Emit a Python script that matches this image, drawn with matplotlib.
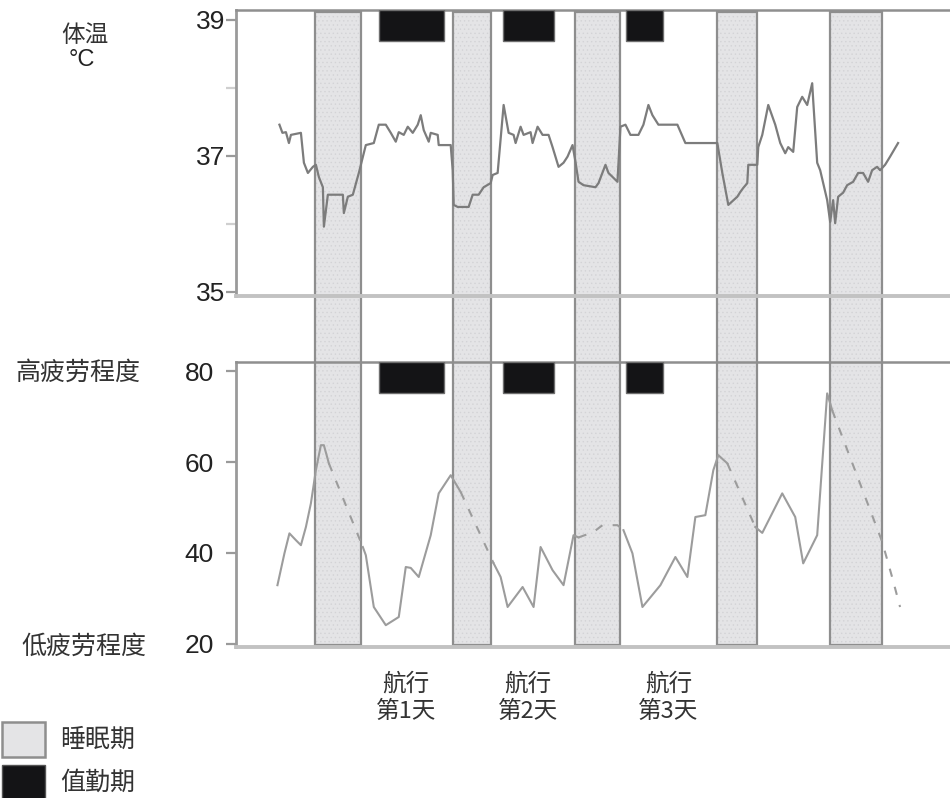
import matplotlib
matplotlib.use("Agg")
import matplotlib.pyplot as plt
from matplotlib.patches import Rectangle

plt.rcParams['font.family'] = ['Liberation Sans', 'Noto Sans CJK SC']
plt.rcParams['hatch.linewidth'] = 0.5
CJK = ['Noto Sans CJK SC', 'DejaVu Sans']

# ---- data (time in hours from start of record) ----
sleep_periods = [(15.8, 25.0), (43.4, 51.0), (67.8, 77.0), (96.4, 104.4), (119.0, 129.4)]
duty_periods = [(28.6, 41.6), (53.4, 63.6), (78.2, 85.6)]

temp_hours = [8.7, 9.3, 10, 10.6, 11, 13, 13.6, 14.4, 15.4, 16, 16.6, 17.4, 17.6, 18.4, 21.4, 21.6,
              22.4, 23.4, 24.6, 26, 27.6, 28.6, 30, 31, 32, 32.6, 33.6, 34.4, 35.4, 36.4, 37, 37.6,
              38.6, 39, 40.4, 40.6, 43, 43.4, 43.6, 44.4, 46.6, 47.4, 48.6, 49.6, 51, 51.4, 52.4,
              53.6, 54.6, 55.6, 56, 57, 57.6, 59, 59.4, 60.4, 61.4, 62.6, 63.4, 64.6, 65.6, 66.4,
              67.4, 68, 68.6, 69.6, 72, 72.6, 74, 74.6, 76.4, 77, 78, 79, 80.6, 81.6, 82.6, 83.4,
              84.6, 88.4, 90, 96.4, 97.4, 98.6, 100.4, 101, 101.6, 102.4, 102.6, 104.4, 104.6,
              105.4, 106.6, 108, 109, 110, 110.6, 111.6, 112.4, 113.4, 114.4, 115.4, 115.6, 116.4,
              117, 118.4, 119, 119.6, 120, 120.6, 121.6, 122.4, 123.6, 124.6, 125.6, 126.6, 127.4,
              128.4, 129, 130, 131, 132.6]
temp_values = [37.46, 37.34, 37.35, 37.19, 37.31, 37.34, 36.90, 36.75, 36.84, 36.87, 36.69, 36.54,
               35.96, 36.43, 36.43, 36.16, 36.40, 36.43, 36.75, 37.16, 37.19, 37.46, 37.46, 37.34,
               37.21, 37.35, 37.31, 37.43, 37.34, 37.46, 37.60, 37.38, 37.21, 37.34, 37.31, 37.16,
               37.16, 36.79, 36.28, 36.25, 36.25, 36.43, 36.43, 36.54, 36.60, 36.72, 36.75, 37.75,
               37.34, 37.31, 37.19, 37.43, 37.31, 37.35, 37.19, 37.43, 37.31, 37.31, 37.13, 36.84,
               36.90, 36.99, 37.16, 36.91, 36.62, 36.57, 36.54, 36.60, 36.87, 36.75, 36.62, 37.43,
               37.46, 37.31, 37.31, 37.46, 37.75, 37.60, 37.46, 37.46, 37.19, 37.19, 36.75, 36.28,
               36.40, 36.47, 36.53, 36.60, 36.87, 36.87, 37.13, 37.31, 37.75, 37.46, 37.19, 37.04,
               37.13, 37.06, 37.72, 37.87, 37.75, 38.07, 37.82, 36.90, 36.79, 36.35, 36.03, 36.35,
               36.01, 36.40, 36.46, 36.57, 36.62, 36.75, 36.75, 36.62, 36.79, 36.84, 36.79, 36.87,
               36.99, 37.19]

fatigue_hours = [8.3, 9.7, 10.7, 12, 13, 14, 15, 16, 17, 17.6, 18.6, 25.4, 26, 27.6, 30, 32.6, 34,
                 35, 36.6, 39, 40.6, 43, 45, 51.6, 53, 54.4, 57.4, 59.6, 61, 63.4, 65.6, 67.6,
                 68.6, 71.6, 73.4, 76.4, 77.6, 79.4, 81.4, 85, 88, 90.4, 92, 94, 95.6, 96.6, 98.4,
                 104, 105.4, 109.4, 112, 113.6, 116.4, 118.4, 119.4, 129.4, 131.4, 133]
fatigue_values = [32.9, 39.9, 44.3, 42.8, 41.7, 45.7, 50.9, 58.2, 63.7, 63.7, 59.7, 41.3, 39.5,
                  28.1, 24.1, 25.9, 36.9, 36.7, 34.7, 43.9, 53.1, 57.1, 53.4, 37.7, 34.7, 28.1,
                  32.5, 28.1, 41.3, 36.2, 32.9, 43.9, 43.4, 44.6, 46.1, 46.1, 45.0, 39.9, 28.1,
                  32.9, 39.1, 34.7, 47.9, 48.3, 58.2, 61.5, 59.7, 45.7, 44.4, 53.1, 47.9, 37.7,
                  43.9, 75.1, 71.4, 42.5, 34.7, 28.1]
# True where the segment leading to the next point is an estimate (dashed)
fatigue_dashed = [False] * 10 + [True] + [False] * 11 + [True] + [False] * 9 + [True] * 4 + \
                 [False] * 10 + [True] + [False] * 7 + [True] * 3 + [False]

temp_ticks = [35, 37, 39]
temp_minor = [36, 38]
fatigue_ticks = [20, 40, 60, 80]
day_centers = [34.0, 58.4, 86.6]
day_labels = ["航行\n第1天", "航行\n第2天", "航行\n第3天"]

# ---- style ----
W, H = 950, 798
BAND_FACE = '#e4e4e6'
BAND_DOT = '#d3d3d6'
BAND_EDGE = '#8e8e8e'
DUTY_FACE = '#141416'
AXIS_GRAY = '#9a9a9a'
XLIM = (0, 143)

fig = plt.figure(figsize=(W / 100, H / 100), dpi=100)


def fbox(x0, y0, x1, y1):
    """Pixel box (top-left origin) to figure fraction rectangle."""
    return [x0 / W, 1 - y1 / H, (x1 - x0) / W, (y1 - y0) / H]


# Background layer carrying the sleep bands across both panels
ax_bg = fig.add_axes(fbox(236, 10, 950, 647))
ax_bg.set_xlim(*XLIM)
ax_bg.set_ylim(0, 1)
ax_bg.axis('off')
for s, e in sleep_periods:
    ax_bg.add_patch(Rectangle((s, 0.003), e - s, 0.994, facecolor=BAND_FACE,
                              edgecolor=BAND_DOT, linewidth=0, hatch='....', zorder=1))
    ax_bg.add_patch(Rectangle((s, 0.003), e - s, 0.994, fill=False,
                              edgecolor=BAND_EDGE, linewidth=1.6, zorder=2))

ax_t = fig.add_axes(fbox(236, 10, 950, 296))
ax_b = fig.add_axes(fbox(236, 362, 950, 647))
for ax in (ax_t, ax_b):
    ax.patch.set_visible(False)
    ax.set_xlim(*XLIM)
    ax.set_xticks([])
    ax.spines['right'].set_visible(False)
    ax.spines['left'].set_color(AXIS_GRAY)
    ax.spines['left'].set_linewidth(2)
    ax.spines['top'].set_color('#8f8f8f')
    ax.spines['top'].set_linewidth(1.8)
    ax.spines['bottom'].set_color('#c2c2c2')
    ax.spines['bottom'].set_linewidth(2.8)
    for s, e in duty_periods:
        ax.axvspan(s, e, ymin=0.89, ymax=1.0, facecolor=DUTY_FACE,
                   edgecolor='#6e6e6e', linewidth=1.0, zorder=3)

# Body temperature panel
ax_t.set_ylim(34.94, 39.147)
ax_t.set_yticks(temp_ticks)
ax_t.set_yticks(temp_minor, minor=True)
ax_t.tick_params(axis='y', which='major', length=7, width=1.6, color=AXIS_GRAY,
                 labelsize=19, pad=1, labelcolor='#222222')
ax_t.tick_params(axis='y', which='minor', length=7, width=1.6, color='#cfcfcf')
ax_t.plot(temp_hours, temp_values, color='#7c7c7c', linewidth=1.6, zorder=4)

# Fatigue panel
ax_b.set_ylim(19.3, 82.0)
ax_b.set_yticks(fatigue_ticks)
ax_b.tick_params(axis='y', length=7, width=1.6, color=AXIS_GRAY,
                 labelsize=19, pad=9, labelcolor='#222222')

i = 0
n = len(fatigue_hours)
while i < n - 1:
    j = i
    while j < n - 1 and fatigue_dashed[j] == fatigue_dashed[i]:
        j += 1
    ls = (0, (4, 5)) if fatigue_dashed[i] else '-'
    ax_b.plot(fatigue_hours[i:j + 1], fatigue_values[i:j + 1], color='#9c9c9c',
              linewidth=1.5, linestyle=ls, zorder=4)
    i = j

# Day labels under the fatigue panel
for xc, lab in zip(day_centers, day_labels):
    ax_b.text(xc, -0.09, lab, transform=ax_b.get_xaxis_transform(), ha='center', va='top',
              fontsize=17, family=CJK, color='#333333', linespacing=1.25)

# Axis captions
fig.text(85 / W, 1 - 36 / H, "体温", ha='center', va='center', fontsize=17, family=CJK,
         color='#333333')
fig.text(82 / W, 1 - 60 / H, "°C", ha='center', va='center', fontsize=17, color='#222222')
fig.text(78 / W, 1 - 373 / H, "高疲劳程度", ha='center', va='center', fontsize=18,
         family=CJK, color='#333333')
fig.text(84 / W, 1 - 647 / H, "低疲劳程度", ha='center', va='center', fontsize=18,
         family=CJK, color='#333333')

# Legend
fig.add_artist(Rectangle(fbox(2, 722, 45, 757)[:2], 43 / W, 35 / H, transform=fig.transFigure,
                         facecolor=BAND_FACE, edgecolor=BAND_EDGE, linewidth=1.8))
fig.add_artist(Rectangle(fbox(2, 765, 45, 800)[:2], 43 / W, 35 / H, transform=fig.transFigure,
                         facecolor=DUTY_FACE, edgecolor='#555555', linewidth=1.0))
fig.text(60 / W, 1 - 740 / H, "睡眠期", ha='left', va='center', fontsize=18, family=CJK,
         color='#333333')
fig.text(60 / W, 1 - 783 / H, "值勤期", ha='left', va='center', fontsize=18, family=CJK,
         color='#333333')

fig.savefig("out.png", dpi=100, facecolor='white')
